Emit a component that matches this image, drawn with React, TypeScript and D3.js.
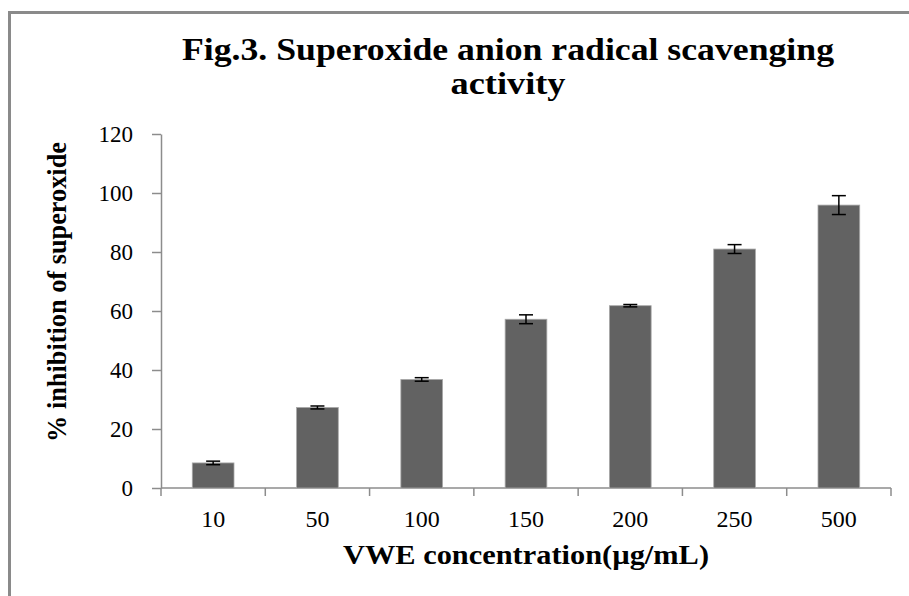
import React, { useEffect, useRef } from "react";
import * as d3 from "d3";

const concentrations = ["10", "50", "100", "150", "200", "250", "500"];
const inhibition = [8.5, 27.3, 36.8, 57.2, 61.8, 81.0, 95.9];
const errors = [0.6, 0.5, 0.6, 1.5, 0.4, 1.5, 3.2];
const yTicks = [0, 20, 40, 60, 80, 100, 120];

const titleLines = ["Fig.3. Superoxide anion radical scavenging", "activity"];
const xTitle = "VWE concentration(µg/mL)";
const yTitle = "% inhibition of superoxide";

export default function App() {
  const ref = useRef<SVGSVGElement>(null);

  useEffect(() => {
    const svg = d3.select(ref.current);
    svg.selectAll("*").remove(); // clear previous chart

    const width = 909,
      height = 596;
    const left = 161,
      right = 891,
      top = 134,
      bottom = 488;
    const font = "'Liberation Serif', 'Times New Roman', serif";
    const axisColor = "#8c8c8c";

    svg.attr("width", width).attr("height", height);

    svg
      .append("rect")
      .attr("width", width)
      .attr("height", height)
      .attr("fill", "#fff");

    // outer frame (runs off the right and bottom edge)
    svg
      .append("rect")
      .attr("x", 9.5)
      .attr("y", 12.5)
      .attr("width", 1200)
      .attr("height", 1200)
      .attr("fill", "none")
      .attr("stroke", "#8a8a8a")
      .attr("stroke-width", 3);

    const x = d3
      .scaleBand()
      .domain(concentrations)
      .range([left, right])
      .paddingInner(0.6)
      .paddingOuter(0.3);
    const y = d3.scaleLinear().domain([0, 120]).range([bottom, top]);

    // title, two lines
    const title = svg
      .append("text")
      .attr("text-anchor", "middle")
      .attr("font-family", font)
      .attr("font-weight", "bold")
      .attr("font-size", 32)
      .attr("fill", "#000");
    title
      .append("tspan")
      .attr("x", 508)
      .attr("y", 60)
      .attr("textLength", 652)
      .attr("lengthAdjust", "spacingAndGlyphs")
      .text(titleLines[0]);
    title
      .append("tspan")
      .attr("x", 508)
      .attr("y", 94)
      .attr("textLength", 115)
      .attr("lengthAdjust", "spacingAndGlyphs")
      .text(titleLines[1]);

    // y axis
    const yAxis = svg
      .append("g")
      .attr("transform", `translate(${left},0)`)
      .call(
        d3
          .axisLeft(y)
          .tickValues(yTicks)
          .tickSize(9)
          .tickSizeOuter(0)
          .tickPadding(19)
      );
    yAxis.select(".domain").attr("stroke", axisColor).attr("stroke-width", 1.5);
    yAxis.selectAll(".tick line").attr("stroke", axisColor).attr("stroke-width", 1.5);
    yAxis
      .selectAll(".tick text")
      .attr("font-family", font)
      .attr("font-size", 23)
      .attr("fill", "#000");

    // x axis line and ticks between the categories
    const step = x.step();
    const gap = step - x.bandwidth();
    svg
      .append("line")
      .attr("x1", left)
      .attr("x2", right)
      .attr("y1", y(0))
      .attr("y2", y(0))
      .attr("stroke", axisColor)
      .attr("stroke-width", 1.5);
    const bounds = concentrations.map((c) => (x(c) as number) - gap / 2);
    bounds.push(right);
    svg
      .selectAll(".xtick")
      .data(bounds)
      .enter()
      .append("line")
      .attr("x1", (d) => d)
      .attr("x2", (d) => d)
      .attr("y1", y(0))
      .attr("y2", y(0) + 8)
      .attr("stroke", axisColor)
      .attr("stroke-width", 1.5);

    svg
      .selectAll(".xlabel")
      .data(concentrations)
      .enter()
      .append("text")
      .attr("x", (d) => (x(d) as number) + x.bandwidth() / 2)
      .attr("y", 527)
      .attr("text-anchor", "middle")
      .attr("font-family", font)
      .attr("font-size", 24)
      .text((d) => d);

    // bars
    svg
      .selectAll(".bar")
      .data(inhibition)
      .enter()
      .append("rect")
      .attr("x", (d, i) => x(concentrations[i]) as number)
      .attr("y", (d) => y(d))
      .attr("width", x.bandwidth())
      .attr("height", (d) => y(0) - y(d))
      .attr("fill", "#626262")
      .attr("stroke", "#a8a8a8")
      .attr("stroke-width", 0.8);

    // error bars
    const eb = svg
      .selectAll(".err")
      .data(inhibition)
      .enter()
      .append("g")
      .attr("stroke", "#000")
      .attr("stroke-width", 1.5);
    const cx = (i: number) => (x(concentrations[i]) as number) + x.bandwidth() / 2;
    eb.append("line")
      .attr("x1", (d, i) => cx(i))
      .attr("x2", (d, i) => cx(i))
      .attr("y1", (d, i) => y(d + errors[i]))
      .attr("y2", (d, i) => y(d - errors[i]));
    eb.append("line")
      .attr("x1", (d, i) => cx(i) - 7)
      .attr("x2", (d, i) => cx(i) + 7)
      .attr("y1", (d, i) => y(d + errors[i]))
      .attr("y2", (d, i) => y(d + errors[i]));
    eb.append("line")
      .attr("x1", (d, i) => cx(i) - 7)
      .attr("x2", (d, i) => cx(i) + 7)
      .attr("y1", (d, i) => y(d - errors[i]))
      .attr("y2", (d, i) => y(d - errors[i]));

    // axis titles
    svg
      .append("text")
      .attr("x", (left + right) / 2)
      .attr("y", 564)
      .attr("text-anchor", "middle")
      .attr("font-family", font)
      .attr("font-weight", "bold")
      .attr("font-size", 27)
      .attr("textLength", 366)
      .attr("lengthAdjust", "spacingAndGlyphs")
      .text(xTitle);

    svg
      .append("text")
      .attr("transform", `translate(66,292) rotate(-90)`)
      .attr("text-anchor", "middle")
      .attr("font-family", font)
      .attr("font-weight", "bold")
      .attr("font-size", 28)
      .attr("textLength", 300)
      .attr("lengthAdjust", "spacingAndGlyphs")
      .text(yTitle);
  }, []);

  return (
    <svg
      ref={ref}
      style={{ position: "absolute", left: 0, top: 0, display: "block" }}
    ></svg>
  );
}
